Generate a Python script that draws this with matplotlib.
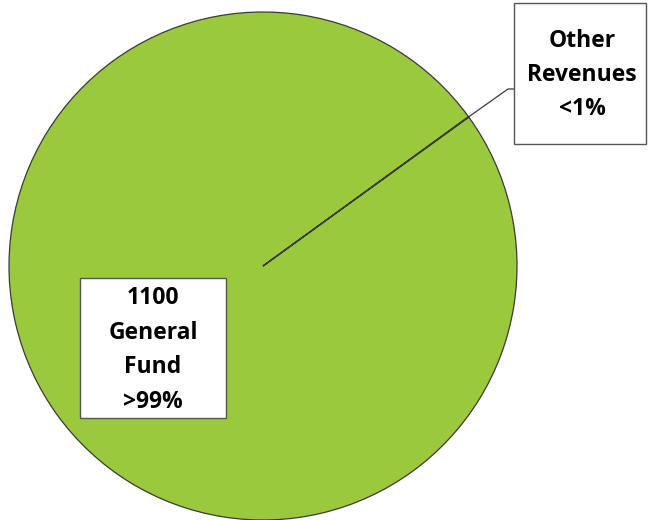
import matplotlib
matplotlib.use("Agg")
import matplotlib.pyplot as plt
from matplotlib.patches import Rectangle
import numpy as np

# Data
categories = ["1100\nGeneral\nFund", "Other\nRevenues"]
values = [99.97, 0.03]
pct_labels = [">99%", "<1%"]

green = "#9BC93D"
W, H = 648, 520
fig = plt.figure(figsize=(W / 100, H / 100), dpi=100)
ax = fig.add_axes([0, 0, 1, 1])

cx, cy, r = 263, H - 266, 254
wedges, _ = ax.pie(values, colors=[green, green], startangle=36,
                   center=(cx, cy), radius=r, frame=True,
                   wedgeprops=dict(edgecolor="#3a3a3a", linewidth=0.9))
ax.set_xlim(0, W)
ax.set_ylim(0, H)
ax.set_aspect("equal")
ax.axis("off")

# leader line from edge of "Other" wedge to its label box
w = wedges[1]
ang = np.deg2rad((w.theta1 + w.theta2) / 2)
ex, ey = cx + r * np.cos(ang), cy + r * np.sin(ang)
bx, by = 508, H - 89
ax.plot([ex, bx, 515], [ey, by, by], color="#3a3a3a", lw=0.9)

font = dict(family="Open Sans", weight="bold", fontsize=16.5, color="black",
            ha="center", va="center", linespacing=1.58)

# Other box
ax.add_patch(Rectangle((514, H - 144), 132, 141, facecolor="white",
                       edgecolor="#555555", lw=1.0, zorder=3))
ax.text(582, H - 75, categories[1] + "\n" + pct_labels[1], zorder=4, **font)

# General fund box
ax.add_patch(Rectangle((80, H - 418), 146, 140, facecolor="white",
                       edgecolor="#555555", lw=1.0, zorder=3))
ax.text(153, H - 350, categories[0] + "\n" + pct_labels[0], zorder=4, **font)

fig.savefig("out.png", dpi=100)
